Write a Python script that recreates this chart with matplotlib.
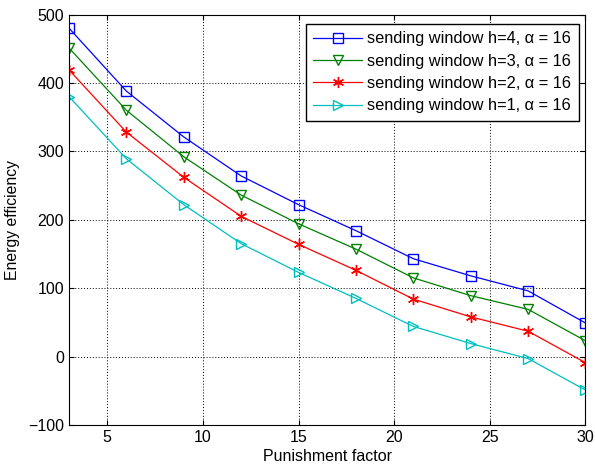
import matplotlib
matplotlib.use("Agg")
import matplotlib.pyplot as plt

plt.rcParams['font.family'] = ['Liberation Sans', 'DejaVu Sans']

# Data
punishment = [3, 6, 9, 12, 15, 18, 21, 24, 27, 30]
h4 = [480, 388, 321, 264, 222, 184, 143, 118, 96, 49]
h3 = [451, 360, 292, 236, 194, 157, 115, 89, 69, 23]
h2 = [419, 328, 262, 205, 164, 126, 84, 58, 37, -9]
h1 = [380, 289, 222, 165, 123, 85, 44, 19, -3, -49]

labels = ["sending window h=4, α = 16",
          "sending window h=3, α = 16",
          "sending window h=2, α = 16",
          "sending window h=1, α = 16"]

fig = plt.figure(figsize=(5.95, 4.68), dpi=100)
ax = fig.add_axes([0.116, 0.092, 0.868, 0.877])

# asterisk marker like MATLAB '*'
ast = (6, 2, 0)

ax.plot(punishment, h4, color='#0000ff', marker='s', mfc='none', ms=6.5, lw=0.9, label=labels[0])
ax.plot(punishment, h3, color='#008000', marker='v', mfc='none', ms=7, lw=0.9, label=labels[1])
ax.plot(punishment, h2, color='#ff0000', marker=ast, ms=8, mew=1.0, lw=0.9, label=labels[2])
ax.plot(punishment, h1, color='#00bfbf', marker='>', mfc='none', ms=7.5, lw=0.9, label=labels[3])

ax.set_xlim(3, 30)
ax.set_ylim(-100, 500)
ax.set_xticks([5, 10, 15, 20, 25, 30])
ax.set_yticks([-100, 0, 100, 200, 300, 400, 500])
ax.grid(True, color='black', linestyle=(0, (1, 2)), linewidth=0.7)
ax.tick_params(direction='in', labelsize=11.5, top=True, right=True)
ax.set_xlabel("Punishment factor", fontsize=11.5, labelpad=3)
ax.set_ylabel("Energy efficiency", fontsize=11.3, labelpad=6)

leg = ax.legend(loc='upper right', bbox_to_anchor=(0.987, 0.977), fontsize=11.8,
                fancybox=False, framealpha=1, edgecolor='black', borderaxespad=0,
                handlelength=3.0, labelspacing=0.45, borderpad=0.45, handletextpad=0.3)
leg.get_frame().set_linewidth(1.0)

fig.savefig("out.png", dpi=100)
